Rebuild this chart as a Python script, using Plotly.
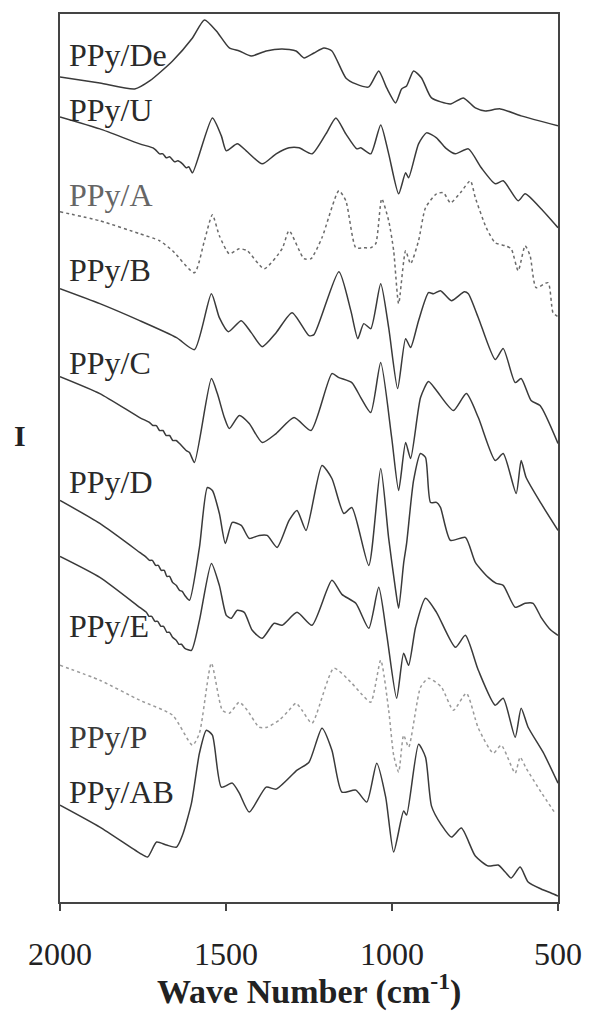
import plotly.graph_objects as go

# ---- data: wavenumber (cm-1) and stacked intensity (a.u.) ----
wn_De = [2000,1880,1775,1730,1661,1601,1565,1529,1490,1460,1424,1379,1331,1289,1265,1235,1205,1181,1139,1109,1070,1040,1016,989,971,956,935,911,881,824,785,749,719,674,611,500]
I_De  = [826,820,814,822,842,865,883,872,855,852,847,852,854,852,845,850,855,852,825,819,816,832,815,800,814,817,832,825,805,799,805,795,792,794,787,777]

wn_U = [2000,1880,1760,1720,1712,1700,1690,1680,1670,1655,1645,1631,1620,1612,1601,1541,1514,1499,1466,1439,1391,1349,1310,1280,1241,1199,1169,1139,1106,1094,1064,1034,1010,980,959,950,920,896,866,839,809,770,731,689,665,620,599,551,500]
I_U  = [786,774,759,755,753,749,749,745,746,741,742,739,735,736,730,785,767,752,759,752,739,749,755,755,749,769,785,769,754,755,749,778,749,709,730,725,759,770,765,755,749,754,735,719,722,702,709,694,675]

wn_A = [2000,1880,1760,1700,1661,1595,1565,1541,1520,1490,1460,1436,1385,1331,1310,1265,1244,1211,1160,1139,1109,1085,1064,1049,1031,1010,995,980,959,944,920,899,866,845,824,794,764,749,716,689,659,641,620,599,584,566,530,515,500]
I_A  = [691,682,669,662,652,630,662,688,667,649,654,652,634,654,672,644,644,665,712,702,655,655,655,659,704,682,652,599,652,639,662,695,709,710,700,710,722,705,675,660,657,654,632,657,647,615,620,590,586]

wn_B = [2000,1880,1760,1649,1595,1544,1520,1493,1454,1424,1391,1349,1301,1250,1235,1160,1124,1103,1085,1064,1034,1010,983,959,944,920,890,875,854,821,782,770,740,689,665,629,611,581,554,500]
I_B  = [614,599,582,565,553,609,585,571,582,570,556,570,590,567,568,631,592,564,579,574,619,575,514,564,555,582,610,609,612,602,611,609,585,543,554,520,524,502,497,459]

wn_C = [2000,1880,1760,1730,1720,1710,1700,1690,1680,1670,1660,1650,1640,1620,1610,1595,1544,1526,1505,1490,1460,1430,1391,1349,1295,1244,1181,1160,1121,1094,1064,1034,1001,980,959,944,914,890,866,815,776,740,689,665,626,611,596,551,500]
I_C  = [526,509,485,480,477,477,472,472,467,467,462,462,459,452,450,440,524,509,485,474,487,479,460,469,485,472,529,525,520,505,490,540,465,412,460,444,505,521,512,492,509,485,442,449,409,442,425,399,372]

wn_D = [2000,1880,1760,1740,1730,1722,1712,1704,1695,1686,1678,1670,1661,1650,1640,1632,1622,1610,1580,1556,1541,1520,1502,1481,1454,1430,1400,1376,1346,1310,1286,1259,1211,1181,1145,1121,1070,1034,1010,989,980,965,956,935,914,899,884,866,854,824,779,749,710,686,665,629,599,575,551,521,500]
I_D  = [402,379,350,345,342,342,337,337,332,332,326,326,320,317,312,311,306,302,355,415,412,389,359,380,377,364,367,367,355,382,392,372,437,424,389,395,337,434,364,312,294,339,359,422,449,445,400,400,395,362,365,340,325,319,317,295,299,299,285,272,267]

wn_E = [2000,1880,1760,1740,1732,1724,1714,1706,1696,1688,1678,1670,1661,1650,1642,1634,1624,1604,1580,1544,1520,1499,1484,1466,1445,1421,1391,1355,1331,1286,1241,1181,1151,1109,1070,1040,1016,986,965,950,929,899,866,809,779,740,689,665,629,611,590,545,500]
I_E  = [346,325,295,290,286,286,281,281,276,276,270,270,265,262,258,258,254,252,282,339,317,287,284,292,290,272,264,279,277,290,277,322,308,299,274,315,268,204,249,237,275,304,290,255,267,232,197,204,165,194,175,150,119]

wn_P = [2000,1880,1760,1661,1601,1580,1544,1511,1490,1460,1436,1400,1376,1340,1310,1289,1271,1241,1175,1121,1094,1064,1034,1010,995,980,965,950,914,890,851,815,776,740,695,671,629,614,596,551,509]
I_P  = [237,222,202,187,157,169,239,192,189,200,192,175,175,182,192,199,192,179,234,219,209,200,242,192,147,130,167,155,215,224,215,192,209,174,149,157,129,145,134,110,89]

wn_AB = [2000,1880,1760,1736,1709,1679,1649,1631,1604,1580,1559,1541,1514,1481,1460,1430,1379,1349,1286,1250,1211,1181,1151,1109,1076,1046,1019,995,965,956,920,899,881,851,821,791,749,710,680,659,641,614,590,551,521,500]
I_AB  = [97,75,49,45,60,57,55,67,99,149,172,167,115,119,109,90,115,113,132,140,174,152,110,112,100,139,105,50,91,87,158,145,96,77,65,74,46,36,37,30,24,35,20,13,9,6]

labels = ["PPy/De", "PPy/U", "PPy/A", "PPy/B", "PPy/C", "PPy/D", "PPy/E", "PPy/P", "PPy/AB"]
label_y = [848, 793, 708, 633, 540, 420, 276, 165, 110]
x_ticks = [2000, 1500, 1000, 500]

series = [
    (wn_De, I_De, "solid", "#3a3a3a"),
    (wn_U, I_U, "solid", "#3a3a3a"),
    (wn_A, I_A, "dot", "#6a6a6a"),
    (wn_B, I_B, "solid", "#3a3a3a"),
    (wn_C, I_C, "solid", "#3a3a3a"),
    (wn_D, I_D, "solid", "#3a3a3a"),
    (wn_E, I_E, "solid", "#3a3a3a"),
    (wn_P, I_P, "dot", "#9a9a9a"),
    (wn_AB, I_AB, "solid", "#3a3a3a"),
]
label_colors = ["#2a2a2a", "#2a2a2a", "#666666", "#2a2a2a", "#2a2a2a",
                "#2a2a2a", "#2a2a2a", "#3a3a3a", "#2a2a2a"]

fig = go.Figure()
for (x, y, dash, col), name in zip(series, labels):
    fig.add_trace(go.Scatter(x=x, y=y, mode="lines", name=name,
                             line=dict(color=col, width=1.5, dash=dash,
                                       shape="spline", smoothing=0.6)))

font_family = "Liberation Serif, Times New Roman, serif"
for name, ly, lc in zip(labels, label_y, label_colors):
    fig.add_annotation(x=1979, y=ly, xref="x", yref="y", text=name,
                       showarrow=False, xanchor="left", yanchor="middle",
                       font=dict(family=font_family, size=32, color=lc))

fig.add_annotation(x=0.5, y=-0.099, xref="paper", yref="paper",
                   text="<b>Wave Number (cm<sup>-1</sup>)</b>", showarrow=False,
                   xanchor="center", yanchor="middle",
                   font=dict(family=font_family, size=34, color="#222222"))
fig.add_annotation(x=-0.08, y=0.525, xref="paper", yref="paper",
                   text="<b>I</b>", showarrow=False,
                   xanchor="center", yanchor="middle",
                   font=dict(family=font_family, size=30, color="#222222"))

fig.update_layout(
    width=594, height=1014,
    margin=dict(l=60, r=32, t=13, b=112),
    paper_bgcolor="white", plot_bgcolor="white",
    showlegend=False,
)
fig.update_xaxes(range=[2000, 500], tickvals=x_ticks, ticktext=[str(t) for t in x_ticks],
                 showgrid=False, zeroline=False, showline=True, mirror=True,
                 linecolor="#444444", linewidth=1.5, ticks="outside", ticklen=7,
                 tickcolor="#444444", tickwidth=1.5, ticklabelstandoff=16,
                 tickfont=dict(family=font_family, size=32, color="#222222"))
fig.update_yaxes(range=[0, 889], showgrid=False, zeroline=False, showline=True,
                 mirror=True, linecolor="#444444", linewidth=1.5,
                 showticklabels=False, ticks="")

fig.write_html("out.html")
